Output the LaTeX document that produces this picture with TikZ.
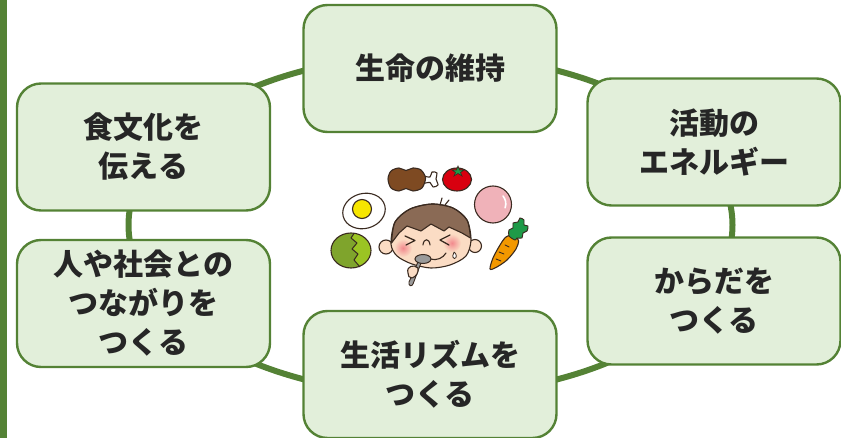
\documentclass[tikz,border=0pt]{standalone}
\usepackage{fontspec}
\newfontfamily\jp{Noto Sans CJK JP}
\usetikzlibrary{shapes.geometric}
\definecolor{frame}{HTML}{548235}
\definecolor{boxfill}{HTML}{E2EFDA}
\definecolor{ink}{HTML}{262626}
\definecolor{outline}{HTML}{3A2A20}
\definecolor{skin}{HTML}{FBDCC4}
\definecolor{hair}{HTML}{8A6A55}
\definecolor{blush}{HTML}{F28A8E}
\definecolor{meat}{HTML}{7E4A22}
\definecolor{tomato}{HTML}{D8000F}
\definecolor{leaf}{HTML}{1E9A48}
\definecolor{ham}{HTML}{F0B2B9}
\definecolor{yolk}{HTML}{F7E600}
\definecolor{cabbageA}{HTML}{7FA42C}
\definecolor{cabbageB}{HTML}{9BC423}
\definecolor{carrot}{HTML}{F39800}
\definecolor{spoon}{HTML}{9A9A9A}
\begin{document}
\begin{tikzpicture}[x=1pt,y=-1pt,
  box/.style={draw=frame, line width=2.4pt, fill=boxfill, rounded corners=24pt,
    text=ink, font=\jp\bfseries\fontsize{30}{39}\selectfont, align=center,
    inner sep=0pt, minimum width=253pt, minimum height=127pt},
  ol/.style={draw=outline, line width=1.1pt, line join=round, line cap=round}]
\useasboundingbox (0,0) rectangle (841,438);

% side bar
\fill[frame] (0,0) rectangle (7,438);

% ring that links the six boxes
\node[draw=frame, line width=6pt, ellipse, minimum width=604pt, minimum height=340pt, inner sep=0pt] (ring) at (430.5,225) {};

% boxes
\node[box] (life)   at (430,68.5)  {生命の維持};
\node[box] (energy) at (714,142)   {活動の\\エネルギー};
\node[box] (body)   at (714,301)   {からだを\\つくる};
\node[box] (rhythm) at (430,374.5) {生活リズムを\\つくる};
\node[box] (people) at (143.5,303.5) {人や社会との\\つながりを\\つくる};
\node[box] (culture) at (143.5,147) {食文化を\\伝える};

% ---- illustration: child eating, surrounded by food ----
% drumstick
\path[ol, fill=white] plot[smooth cycle] coordinates {(423,176.5) (430,177) (432,172) (437,173) (436,179) (438,185) (433,187) (430,182.5) (423,183)};
\path[ol, fill=meat] plot[smooth cycle] coordinates {(388,179) (391,171) (399,168) (406,170.5) (413,168) (421,170) (425.5,178) (422,188) (413,191) (406,188.5) (399,191) (391,188)};
% tomato
\path[ol, fill=tomato] (457,179.5) ellipse (14.5 and 11.5);
\path[draw=outline, line width=0.6pt, fill=leaf] (458,166) -- (459.5,170) -- (464,170) -- (460.5,172.5) -- (462,176) -- (458,173.5) -- (454,176) -- (455.5,172.5) -- (452,170) -- (456.5,170) -- cycle;
% ham ball
\path[ol, fill=ham] (493,204.5) circle (18.5);
\draw[white, line width=1.6pt, line cap=round] (503,196) arc[start angle=-40, end angle=20, radius=12];
% egg
\path[ol, fill=white, rotate around={15:(364,211)}] (364,211) ellipse (21.5 and 17.5);
\path[ol, fill=yolk] (362,209) circle (9.5);
% cabbage
\path[fill=cabbageB] (351,250.5) ellipse (20 and 17.5);
\begin{scope}
  \clip (351,250.5) ellipse (20 and 17.5);
  \path[fill=cabbageA] (320,230) -- (354,232) -- (351,238) -- (357,243) -- (352,249) -- (358,254) -- (354,260) -- (361,270) -- (320,270) -- cycle;
\end{scope}
\draw[outline, line width=1pt, line join=round] (354,233.5) -- (351,238) -- (357,243) -- (352,249) -- (358,254) -- (354,260) -- (360,267);
\path[ol] (351,250.5) ellipse (20 and 17.5);
% carrot
\path[ol, fill=carrot] plot[smooth cycle] coordinates {(490,269) (493,258) (500,245) (506,237) (514,235) (518.5,240.5) (516,249) (507,260) (496,267.5)};
\draw[outline, line width=0.9pt, line cap=round] (499,252) -- (504,254) (496,259) -- (501,261) (505,245) -- (509,247);
\path[draw=outline, line width=0.9pt, fill=leaf] plot[smooth cycle] coordinates {(509,236) (509,230) (513,228) (513,223) (518,222) (520,218) (524,220) (524,225) (528,226) (527,231) (523,233) (522,238) (517,238) (515,240)};
% ears
\path[ol, fill=skin] (386,247) circle (7);
\path[ol, fill=skin] (475,246) circle (6.5);
% head
\path[fill=skin] plot[smooth cycle] coordinates {(391,244) (395,222) (410,209) (432,204) (453,208) (467,220) (471,240) (466,256) (450,265) (431,268) (412,264) (397,256)};
% cheeks
\shade[inner color=blush, outer color=skin] (403,248) circle (9);
\shade[inner color=blush, outer color=skin] (452,243) circle (9);
% hair
\path[fill=hair, draw=outline, line width=1.1pt, line join=round]
  plot[smooth] coordinates {(391.5,243) (395,222) (410,209) (432,204) (453,208) (467,220) (470.5,238)}
  -- (462,233) -- (449,227) -- (444,231) -- (431,224) -- (421,231) -- (407,226) -- (399,233) -- cycle;
\draw[outline, line width=1.1pt, line cap=round] (440,205) -- (442,198) (445,205) -- (449,200);
% head outline
\path[ol] plot[smooth cycle] coordinates {(391,244) (395,222) (410,209) (432,204) (453,208) (467,220) (471,240) (466,256) (450,265) (431,268) (412,264) (397,256)};
% closed eyes and nose
\draw[outline, line width=1.3pt, line join=round, line cap=round] (405,236) -- (415,240.5) -- (406,245);
\draw[outline, line width=1.3pt, line join=round, line cap=round] (450,235) -- (440,240) -- (449,245);
\draw[outline, line width=1.1pt, line cap=round] (423,245) .. controls (423.5,238) and (429.5,238) .. (430,245);
% mouth with food
\draw[outline, line width=1.1pt, line cap=round] (430,259) .. controls (437,261) and (443,258) .. (446,253);
\path[draw=outline, line width=0.8pt, fill=white] (454,252) .. controls (457,254) and (457,258) .. (454.5,258.5) .. controls (452,258) and (452.5,254) .. (454,252);
% spoon and hand
\path[draw=outline, line width=0.9pt, fill=spoon] (418,262) -- (409,282) .. controls (408,286) and (412,287) .. (413,284) -- (421,263) -- cycle;
\path[draw=outline, line width=1pt, fill=spoon] (423,259) ellipse (8 and 4.5);
\path[ol, fill=skin] (408,273) .. controls (406,266) and (414,264) .. (418,268) .. controls (419,272) and (416,277) .. (412,278) .. controls (409,278) and (408,276) .. (408,273);
\end{tikzpicture}
\end{document}
